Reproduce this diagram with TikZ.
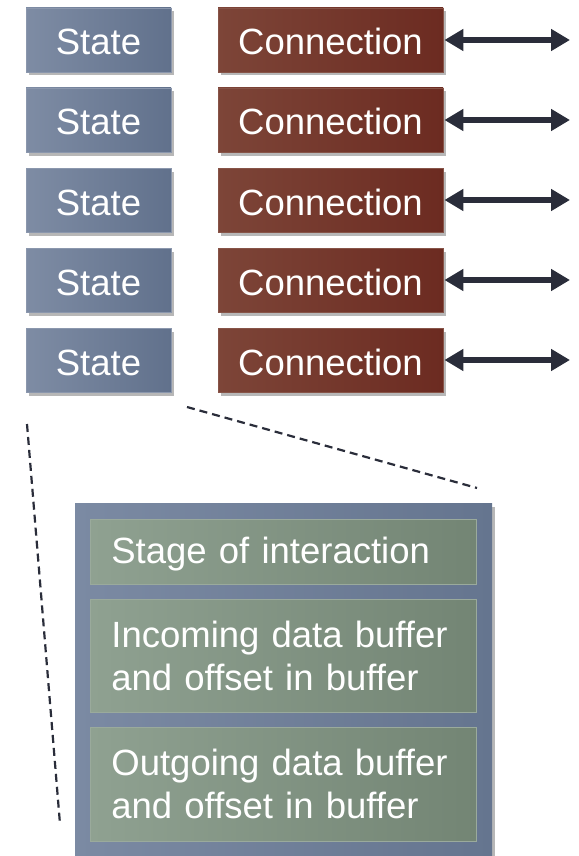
\documentclass[tikz,border=0pt]{standalone}
\usepackage{fontspec}
\setmainfont{Liberation Sans}
\usetikzlibrary{shadows,arrows.meta}
\definecolor{stL}{HTML}{7E8CA4}
\definecolor{stR}{HTML}{61718C}
\definecolor{cnL}{HTML}{7D4538}
\definecolor{cnR}{HTML}{6C2B21}
\definecolor{gnL}{HTML}{8FA191}
\definecolor{gnR}{HTML}{738574}
\definecolor{obL}{HTML}{7B8AA3}
\definecolor{obR}{HTML}{65758F}
\definecolor{arr}{HTML}{2A2D3A}
\tikzset{
  shad/.style={drop shadow={shadow xshift=3pt,shadow yshift=-3.5pt,opacity=0.4,fill=black!70}},
  statebox/.style={shad,left color=stL,right color=stR,draw=stL!90!white,line width=0.8pt,
    minimum width=145pt,minimum height=64pt,inner sep=0pt,text=white,
    text height=30pt,text depth=0pt,font=\fontsize{36.5}{43}\selectfont},
  connbox/.style={shad,left color=cnL,right color=cnR,draw=cnL!92!white,line width=0.8pt,
    minimum width=225pt,minimum height=64pt,inner sep=0pt,text=white,
    text height=30pt,text depth=0pt,font=\fontsize{36.5}{43}\selectfont},
  outerbox/.style={shad,left color=obL,right color=obR,minimum width=417pt,minimum height=380pt,inner sep=0pt},
  fieldbox/.style={left color=gnL,right color=gnR,draw=gnL!90!white,line width=0.8pt,
    minimum width=386pt,inner sep=0pt,text=white,align=left,text width=344pt,
    font=\fontsize{36.5}{43}\selectfont},
  biarrow/.style={{Triangle[length=19pt,width=21pt]}-{Triangle[length=19pt,width=21pt]},line width=5.5pt,draw=arr},
  zoomline/.style={dash pattern=on 8pt off 5pt,line width=2.2pt,draw=arr}
}
\begin{document}
\begin{tikzpicture}[x=1pt,y=-1pt]
\useasboundingbox (0,0) rectangle (578,856);
\clip (0,0) rectangle (578,856);
\foreach \i in {1,...,5}{
  \pgfmathsetmacro{\yy}{40+80*(\i-1)}
  \node[statebox] (s\i) at (98.5,\yy) {State};
  \node[connbox] (c\i) at (330.5,\yy) {Connection};
  \coordinate (e\i) at (570,\yy);
  \draw[biarrow] (c\i.east) ++(1pt,0) -- (e\i);
}
\coordinate (z1a) at (187,407);
\coordinate (z1b) at (477,488);
\coordinate (z2a) at (27,424);
\coordinate (z2b) at (60,824);
\draw[zoomline] (z1a) -- (z1b);
\draw[zoomline] (z2a) -- (z2b);
\node[outerbox,anchor=north west] (ob) at (75,503) {};
\node[fieldbox,minimum height=65pt,text height=30pt,text depth=6pt,anchor=north west] (f1) at (90,519) {Stage of interaction};
\node[fieldbox,minimum height=113pt,anchor=north west] (f2) at (90,599) {Incoming data buffer\\and offset in buffer};
\node[fieldbox,minimum height=114pt,anchor=north west] (f3) at (90,727) {Outgoing data buffer\\and offset in buffer};
\end{tikzpicture}
\end{document}
